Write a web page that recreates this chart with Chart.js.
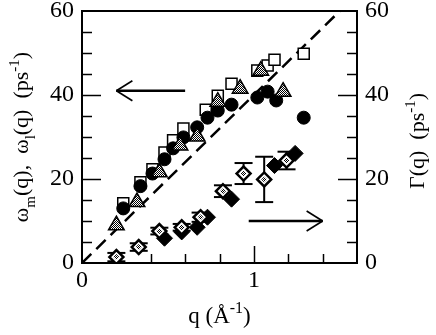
<!DOCTYPE html>
<html><head><meta charset="utf-8">
<script src="https://cdn.jsdelivr.net/npm/chart.js@4.4.0/dist/chart.umd.min.js"></script>
<style>html,body{margin:0;padding:0;background:#fff;}</style>
</head><body>
<canvas id="c" width="436" height="335" style="width:436px;height:335px;display:block"></canvas>
<script>
// ---- data ----
const circleQ = [0.24,0.34,0.41,0.48,0.53,0.59,0.67,0.73,0.79,0.87,1.02,1.08,1.13,1.29];
const circleW = [13.0,18.3,21.3,24.7,27.3,29.9,32.3,34.6,36.3,37.7,39.4,40.8,38.7,34.6];
const squareQ = [0.24,0.34,0.41,0.48,0.53,0.59,0.72,0.79,0.87,1.02,1.08,1.12,1.29];
const squareW = [14.2,19.2,22.3,26.3,29.2,32.0,36.5,39.8,42.7,45.8,47.0,48.4,49.8];
const triQ = [0.20,0.32,0.45,0.57,0.67,0.79,0.92,1.04,1.17];
const triW = [9.0,14.5,21.6,28.0,30.1,38.4,41.5,45.8,40.8];
const gammaQ = [0.20,0.33,0.45,0.58,0.69,0.82,0.94,1.06,1.19];
const gammaG = [1.4,3.8,7.6,8.5,10.9,17.1,21.3,19.9,24.4];
const gammaErr = [1.0,0.9,0.8,0.8,1.1,1.4,2.5,5.4,2.1];
const gammaFilledQ = [0.48,0.58,0.67,0.73,0.87,1.12,1.24];
const gammaFilledG = [5.9,7.4,8.5,10.9,15.2,23.2,26.1];
const fitQ = [0, 1.5];
const fitW = [0, 60];
const xTickLabels = [0, 1];
const yTickLabels = [0, 20, 40, 60];
// arrows in data units: [q start, value, q tip]
const arrowLeft = [0.60, 41, 0.20];
const arrowRight = [0.97, 10, 1.40];
// axis titles: [text, kind] where kind is '' (normal), 'sub' or 'sup'
const xTitle = [['q (\u00C5', ''], ['-1', 'sup'], [')', '']];
const yTitle = [['\u03C9', ''], ['m', 'sub'], ['(q),  \u03C9', ''], ['l', 'sub'], ['(q)  (ps', ''], ['-1', 'sup'], [')', '']];
const y2Title = [['\u0393(q)  (ps', ''], ['-1', 'sup'], [')', '']];

const pts = (xs, ys) => xs.map((v, i) => ({x: v, y: ys[i]}));

const canvas = document.getElementById('c');
const ctx0 = canvas.getContext('2d');
function checker(){
  const c = document.createElement('canvas'); c.width = 2; c.height = 2;
  const g = c.getContext('2d');
  g.fillStyle = '#fff'; g.fillRect(0,0,2,2);
  g.fillStyle = '#000'; g.fillRect(0,0,1,1); g.fillRect(1,1,1,1);
  return ctx0.createPattern(c, 'repeat');
}
const hatch = checker();

const FONT = "'Liberation Serif', 'Times New Roman', serif";

function seg(ctx, x1, y1, x2, y2){ ctx.beginPath(); ctx.moveTo(x1,y1); ctx.lineTo(x2,y2); ctx.stroke(); }

// draws rich text centred at (cx, baseline cy) in a frame rotated by rot
function richText(ctx, parts, cx, cy, rot, size){
  const small = Math.round(size * 0.68);
  const fontFor = k => (k ? small : size) + 'px ' + FONT;
  let total = 0;
  const widths = parts.map(p => { ctx.font = fontFor(p[1]); const w = ctx.measureText(p[0]).width; total += w; return w; });
  ctx.save();
  ctx.translate(cx, cy);
  ctx.rotate(rot);
  ctx.fillStyle = '#000';
  ctx.textAlign = 'left';
  ctx.textBaseline = 'alphabetic';
  let xx = -total / 2;
  parts.forEach((p, i) => {
    ctx.font = fontFor(p[1]);
    const dy = p[1] === 'sub' ? size * 0.3 : (p[1] === 'sup' ? -size * 0.42 : 0);
    ctx.fillText(p[0], xx, dy);
    xx += widths[i];
  });
  ctx.restore();
}

const deco = {
  id: 'deco',
  beforeDatasetsDraw(chart){
    const {ctx, chartArea: a, scales} = chart;
    const x = scales.x, y = scales.y, y2 = scales.y2;
    ctx.save();
    ctx.strokeStyle = '#000';
    ctx.lineWidth = 1.5;
    for (let v = 5; v < 60; v += 5){
      const major = v % 20 === 0;
      const len = major ? 19 : 10;
      const py = Math.round(y.getPixelForValue(v)) + 0.5;
      seg(ctx, a.left, py, a.left + len, py);
      const py2 = Math.round(y2.getPixelForValue(v)) + 0.5;
      seg(ctx, a.right, py2, a.right - len, py2);
    }
    for (let k = 1; k < 8; k++){
      const v = k * 0.2;
      const major = k === 5;
      const len = major ? 17 : 9;
      const px = Math.round(x.getPixelForValue(v)) + 0.5;
      seg(ctx, px, a.bottom, px, a.bottom - len);
    }
    // error bars
    ctx.lineWidth = 2;
    for (let i = 0; i < gammaQ.length; i++){
      const px = x.getPixelForValue(gammaQ[i]);
      const top = y2.getPixelForValue(gammaG[i] + gammaErr[i]);
      const bot = y2.getPixelForValue(gammaG[i] - gammaErr[i]);
      seg(ctx, px, top, px, bot);
      seg(ctx, px - 9, top, px + 9, top);
      seg(ctx, px - 9, bot, px + 9, bot);
    }
    ctx.restore();
  },
  afterDatasetsDraw(chart){
    const {ctx, chartArea: a, scales} = chart;
    const x = scales.x, y = scales.y;
    ctx.save();
    ctx.strokeStyle = '#000';
    ctx.lineWidth = 2;
    ctx.strokeRect(a.left, a.top, a.right - a.left, a.bottom - a.top);
    // arrows
    const drawArrow = (arr) => {
      const x1 = x.getPixelForValue(arr[0]), yy = y.getPixelForValue(arr[1]), x2 = x.getPixelForValue(arr[2]);
      const dir = Math.sign(x2 - x1);
      ctx.lineWidth = 2.5;
      seg(ctx, x1, yy, x2, yy);
      ctx.lineWidth = 1.6;
      seg(ctx, x2, yy, x2 - dir*16, yy - 10);
      seg(ctx, x2, yy, x2 - dir*16, yy + 10);
    };
    drawArrow(arrowLeft);
    drawArrow(arrowRight);
    ctx.restore();
    // axis titles
    richText(ctx, xTitle, (a.left + a.right) / 2 - 0, 323, 0, 23);
    richText(ctx, yTitle, 28, (a.top + a.bottom) / 2, -Math.PI / 2, 22);
    richText(ctx, y2Title, 424, (a.top + a.bottom) / 2 + 4, -Math.PI / 2, 22);
  }
};

new Chart(canvas, {
  type: 'scatter',
  data: {
    datasets: [
      {label:'fit', data: pts(fitQ, fitW), showLine: true, pointRadius: 0, borderColor:'#000', borderWidth: 2.5, borderDash:[13,7], order: 10, yAxisID:'y'},
      {label:'squares', data: pts(squareQ, squareW), pointStyle:'rect', pointRadius: 7.8, backgroundColor:'#fff', borderColor:'#000', borderWidth:1.5, order: 9, yAxisID:'y'},
      {label:'circles', data: pts(circleQ, circleW), pointStyle:'circle', pointRadius: 6.5, backgroundColor:'#000', borderColor:'#000', borderWidth:1, order: 8, yAxisID:'y'},
      {label:'triangles', data: pts(triQ, triW), pointStyle:'triangle', pointRadius: 9, backgroundColor: hatch, borderColor:'#000', borderWidth:1.5, order: 7, yAxisID:'y'},
      {label:'gamma filled', data: pts(gammaFilledQ, gammaFilledG), pointStyle:'rectRot', pointRadius: 8, backgroundColor:'#000', borderColor:'#000', borderWidth:1, order: 6, yAxisID:'y2'},
      {label:'gamma', data: pts(gammaQ, gammaG), pointStyle:'rectRot', pointRadius: 7, backgroundColor:'#fff', borderColor:'#000', borderWidth:2.5, order: 5, yAxisID:'y2'},
      {label:'gamma core', data: pts(gammaQ, gammaG), pointStyle:'rectRot', pointRadius: 3, backgroundColor: hatch, borderWidth:0, order: 4, yAxisID:'y2'}
    ]
  },
  options: {
    responsive: false,
    animation: false,
    devicePixelRatio: 1,
    layout: {padding: {top: 11, left: 0, right: 0, bottom: 0}},
    plugins: {legend: {display: false}, tooltip: {enabled: false}},
    scales: {
      x: {
        type: 'linear', position: 'bottom', min: 0, max: 1.6,
        afterBuildTicks: s => { s.ticks = xTickLabels.map(v => ({value: v})); },
        afterFit: s => { s.height = 72; s.paddingLeft = 0; s.paddingRight = 0; },
        grid: {display: false, drawTicks: false},
        border: {display: false},
        ticks: {color:'#000', padding: 3, font: {family: FONT, size: 24}},
        title: {display: false, text: 'q (\u00C5-1)'}
      },
      y: {
        type: 'linear', position: 'left', min: 0, max: 60,
        afterBuildTicks: s => { s.ticks = yTickLabels.map(v => ({value: v})); },
        afterFit: s => { s.width = 82; s.paddingTop = 0; s.paddingBottom = 0; },
        grid: {display: false, drawTicks: false},
        border: {display: false},
        ticks: {color:'#000', padding: 8, font: {family: FONT, size: 24}},
        title: {display: false, text: '\u03C9m(q),  \u03C9l(q)  (ps-1)'}
      },
      y2: {
        type: 'linear', position: 'right', min: 0, max: 60,
        afterBuildTicks: s => { s.ticks = yTickLabels.map(v => ({value: v})); },
        afterFit: s => { s.width = 79; s.paddingTop = 0; s.paddingBottom = 0; },
        grid: {display: false, drawTicks: false},
        border: {display: false},
        ticks: {color:'#000', padding: 8, font: {family: FONT, size: 24}},
        title: {display: false, text: '\u0393(q)  (ps-1)'}
      }
    }
  },
  plugins: [deco]
});
</script>
</body></html>
